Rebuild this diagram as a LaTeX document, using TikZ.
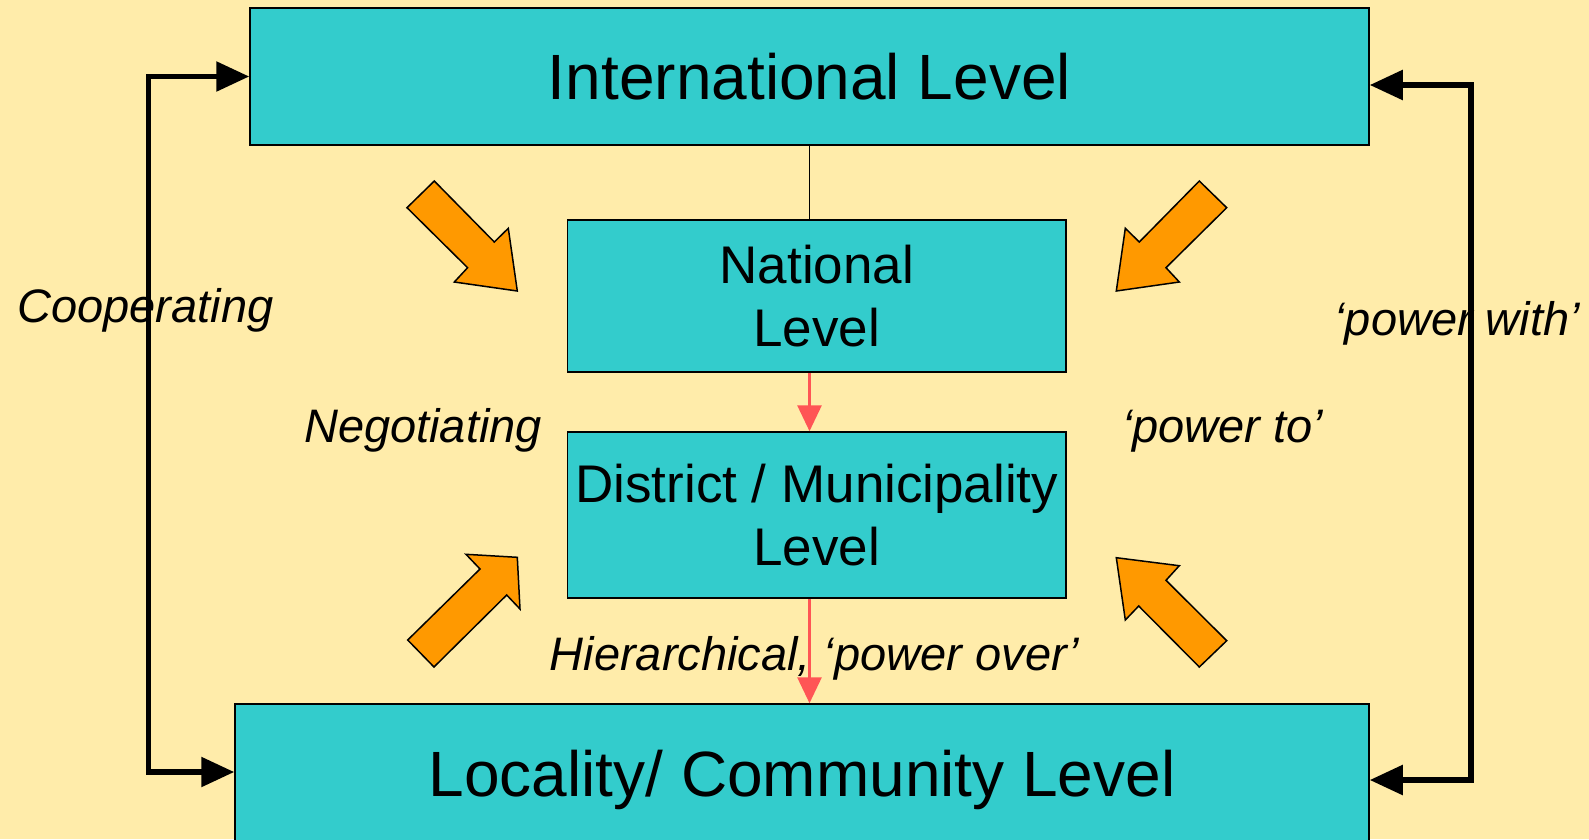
\documentclass[tikz,border=0pt]{standalone}
\usepackage{fontspec}
\setmainfont{Liberation Sans}
\usetikzlibrary{arrows.meta}
\definecolor{bgc}{RGB}{255,236,170}
\definecolor{tealc}{RGB}{51,204,204}
\definecolor{orangec}{RGB}{255,153,0}
\definecolor{redc}{RGB}{255,85,85}
\begin{document}
\begin{tikzpicture}[x=1pt,y=-1pt,
  lvl/.style={draw=black, line width=1.5pt, fill=tealc, inner sep=0pt, align=center},
  bigtext/.style={font=\fontsize{64}{77}\selectfont},
  midtext/.style={font=\fontsize{53}{63.5}\selectfont},
  lbl/.style={font=\fontsize{47}{56}\selectfont\itshape, inner sep=0pt},
  fat/.style={fill=orangec, draw=black, line width=1.5pt, line join=miter},
  redarrow/.style={draw=redc, line width=3pt, -{Triangle[length=26pt,width=24pt]}},
  loopline/.style={draw=black, line width=5.5pt, {Triangle[length=33pt,width=29pt]}-{Triangle[length=33pt,width=29pt]}}
]
\useasboundingbox (0,0) rectangle (1589,839);
\fill[bgc] (0,0) rectangle (1589,839);
\clip (0,0) rectangle (1589,839);

% boxes
\node[lvl, bigtext, minimum width=1119pt, minimum height=137pt] (intl) at (809.5,76.5) {International Level};
\node[lvl, midtext, minimum width=498.5pt, minimum height=152pt] (natl) at (816.8,296) {National\\Level};
\node[lvl, midtext, minimum width=498.5pt, minimum height=166pt] (dist) at (816.8,515) {District / Municipality\\Level};
\node[lvl, bigtext, minimum width=1134pt, minimum height=146pt, text depth=7pt] (loc) at (802,777) {Locality/ Community Level};

% connectors between levels
\draw[black, line width=1.5pt] (intl.south) -- (natl.north -| intl.south);
\draw[redarrow] (natl.south -| intl.south) -- (dist.north -| intl.south);
\draw[redarrow] (dist.south -| intl.south) -- (loc.north -| intl.south);

% labels
\node[lbl] (coop) at (145.4,310.5) {Cooperating};
\node[lbl] (nego) at (423,430.5) {Negotiating};
\node[lbl] (pto) at (1222.6,431) {‘power to’};
\node[lbl] (pwith) at (1457.3,323.5) {‘power with’};
\node[lbl] (hier) at (814.5,658.5) {Hierarchical, ‘power over’};

% side loops
\draw[loopline] (intl.west) -- ++(-101,0) |- ([yshift=5pt]loc.west);
\draw[loopline] ([yshift=-8.5pt]intl.east) -- ++(101,0) |- ([yshift=-3pt]loc.east);

% orange block arrows
\draw[fat] (434.3,181) -- (494.3,242) -- (508.3,228.3) -- (517.3,291) -- (454.3,282) -- (467.6,267.7) -- (407,207.7) -- cycle;
\draw[fat] (1199.3,181) -- (1226.7,207.7) -- (1166,267.7) -- (1179.3,282) -- (1116.3,291) -- (1125.3,228.3) -- (1139.3,242) -- cycle;
\draw[fat] (407.7,640) -- (480,569) -- (466,554.3) -- (517.3,557.3) -- (520,609) -- (506.7,595) -- (434,667) -- cycle;
\draw[fat] (1226.7,640.7) -- (1166,580.3) -- (1179.3,565.7) -- (1116.3,557.7) -- (1125.3,620) -- (1138.7,606) -- (1199.3,667) -- cycle;
\end{tikzpicture}
\end{document}
